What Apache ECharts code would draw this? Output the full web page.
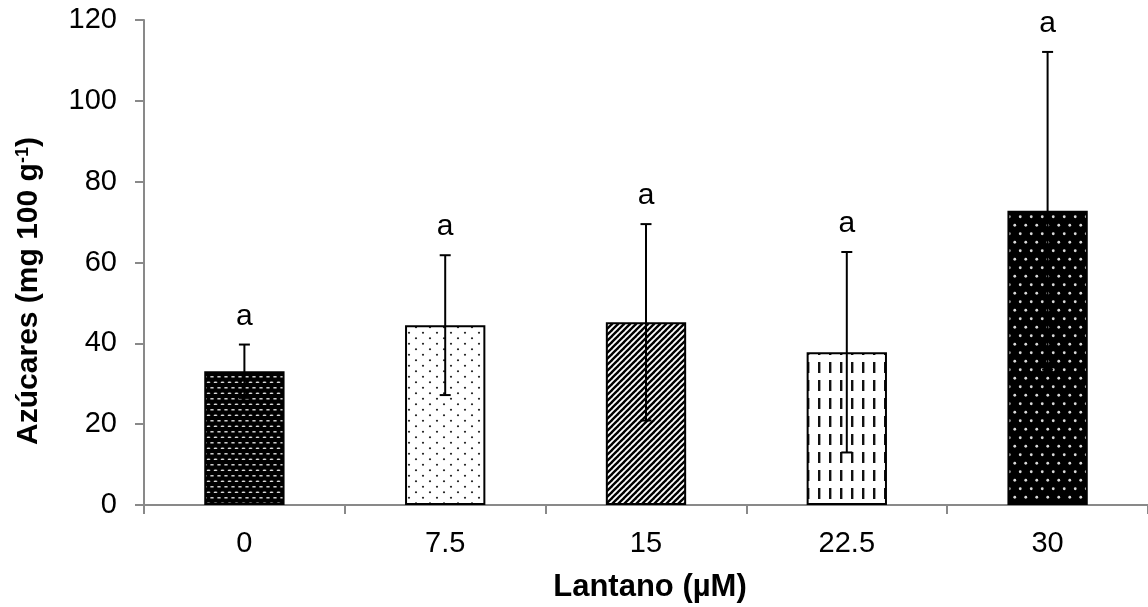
<!DOCTYPE html>
<html>
<head>
<meta charset="utf-8">
<script src="https://cdn.jsdelivr.net/npm/echarts@6/dist/echarts.min.js"></script>
<style>
html,body{margin:0;padding:0;background:#fff;}
#chart{width:1148px;height:607px;}
</style>
</head>
<body>
<div id="chart"></div>
<script>
// ---- data ----
const categories = ['0', '7.5', '15', '22.5', '30'];
const means = [33.1, 44.5, 45.2, 37.8, 72.8];
const sds = [6.6, 17.3, 24.3, 24.8, 39.3];
const letters = ['a', 'a', 'a', 'a', 'a'];
const yTicks = { min: 0, max: 120, interval: 20 };

// ---- patterns ----
function tile(w, h, bg, draw) {
  const c = document.createElement('canvas');
  c.width = w; c.height = h;
  const ctx = c.getContext('2d');
  ctx.fillStyle = bg; ctx.fillRect(0, 0, w, h);
  draw(ctx, w, h);
  return { image: c, repeat: 'repeat' };
}
function ell(ctx, x, y, rx, ry) { ctx.beginPath(); ctx.ellipse(x, y, rx, ry, 0, 0, Math.PI * 2); ctx.fill(); }

const patterns = [
  tile(7, 11, '#000', (ctx) => {
    ctx.fillStyle = '#dcdcdc';
    ell(ctx, 2, 2.75, 1.9, 0.85);
    ell(ctx, 5.5, 8.25, 1.9, 0.85);
    ell(ctx, -1.5, 8.25, 1.9, 0.85);
  }),
  tile(14, 11, '#fff', (ctx) => {
    ctx.fillStyle = '#222';
    ell(ctx, 3, 2.75, 1.1, 1.1);
    ell(ctx, 10, 8.25, 1.1, 1.1);
  }),
  tile(6, 6, '#fff', (ctx) => {
    ctx.strokeStyle = '#000'; ctx.lineWidth = 2.4;
    for (let k = -1; k <= 1; k++) {
      ctx.beginPath(); ctx.moveTo(k * 6 - 1, 7); ctx.lineTo(k * 6 + 7, -1); ctx.stroke();
    }
  }),
  tile(11, 18, '#fff', (ctx) => {
    ctx.fillStyle = '#111';
    ctx.fillRect(4, 2, 2.4, 11);
  }),
  tile(11, 17, '#000', (ctx) => {
    ctx.fillStyle = '#dadada';
    ell(ctx, 2.75, 4.25, 1.4, 1.4);
    ell(ctx, 8.25, 12.75, 1.4, 1.4);
  })
];

const FONT = "'Liberation Sans', Arial, sans-serif";
const axisGrey = '#898989';

const chart = echarts.init(document.getElementById('chart'), null, { renderer: 'canvas' });

const option = {
  animation: false,
  backgroundColor: '#fff',
  grid: { left: 144, top: 20, width: 1011, height: 485, containLabel: false },
  xAxis: {
    type: 'category',
    data: categories,
    axisLine: { lineStyle: { color: axisGrey, width: 2 } },
    axisTick: { show: true, length: 9, lineStyle: { color: axisGrey, width: 2 } },
    axisLabel: { color: '#000', fontSize: 29, fontFamily: FONT, margin: 24 },
    splitLine: { show: false }
  },
  yAxis: {
    type: 'value',
    min: yTicks.min, max: yTicks.max, interval: yTicks.interval,
    axisLine: { show: true, lineStyle: { color: axisGrey, width: 2 } },
    axisTick: { show: true, length: 9, lineStyle: { color: axisGrey, width: 2 } },
    axisLabel: { color: '#000', fontSize: 29, fontFamily: FONT, margin: 27 },
    splitLine: { show: false }
  },
  series: [
    {
      type: 'bar',
      barWidth: '40%',
      data: means.map((v, i) => ({
        value: v,
        itemStyle: { color: patterns[i], borderColor: '#000', borderWidth: 2 }
      })),
      z: 2
    },
    {
      type: 'custom',
      z: 5,
      data: means.map((v, i) => [i, v, sds[i]]),
      renderItem: function (params, api) {
        const i = api.value(0), m = api.value(1), s = api.value(2);
        const top = api.coord([i, m + s]);
        const bot = api.coord([i, m - s]);
        const cap = 5.5;
        const ls = { stroke: '#000', lineWidth: 2 };
        return {
          type: 'group',
          children: [
            { type: 'line', shape: { x1: top[0], y1: top[1], x2: bot[0], y2: bot[1] }, style: ls },
            { type: 'line', shape: { x1: top[0] - cap, y1: top[1], x2: top[0] + cap, y2: top[1] }, style: ls },
            { type: 'line', shape: { x1: bot[0] - cap, y1: bot[1], x2: bot[0] + cap, y2: bot[1] }, style: ls },
            {
              type: 'text',
              x: top[0], y: top[1] - 28,
              style: {
                text: letters[params.dataIndex],
                fill: '#000', font: '30px ' + FONT,
                align: 'center', verticalAlign: 'middle'
              }
            }
          ]
        };
      }
    }
  ],
  graphic: [
    {
      type: 'text',
      x: 650, y: 587,
      style: {
        text: 'Lantano (µM)',
        fill: '#000',
        font: 'bold 31px ' + FONT,
        align: 'center', verticalAlign: 'middle'
      }
    },
    {
      type: 'text',
      x: 29, y: 291,
      rotation: Math.PI / 2,
      style: {
        text: 'Azúcares (mg 100 g{sup|-1})',
        fill: '#000',
        fontSize: 30, fontWeight: 'bold', fontFamily: FONT,
        align: 'center', verticalAlign: 'middle',
        rich: {
          sup: { fontSize: 18, fontWeight: 'bold', fontFamily: FONT, fill: '#000', verticalAlign: 'top', lineHeight: 30 }
        }
      }
    }
  ]
};
chart.setOption(option);
</script>
</body>
</html>
